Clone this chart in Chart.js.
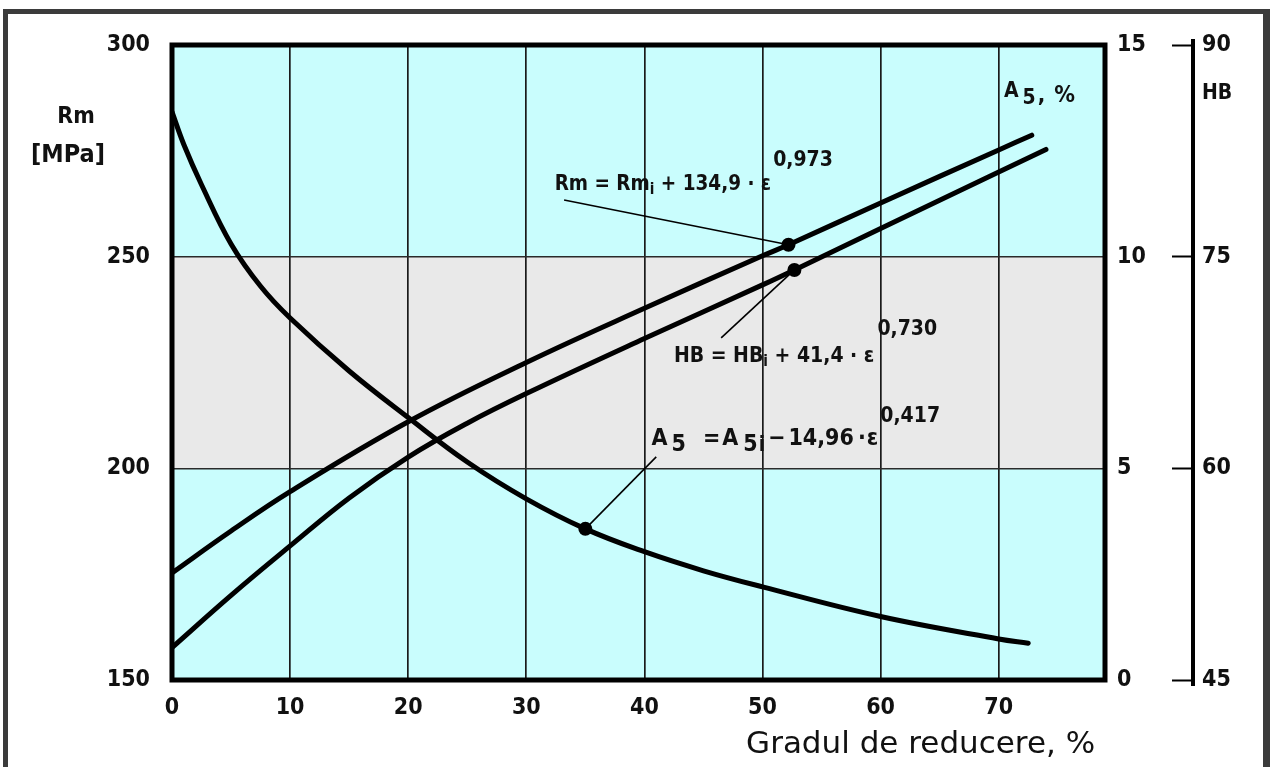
<!DOCTYPE html>
<html lang="ro">
<head>
<meta charset="UTF-8">
<title>Rm, HB, A5 - grad de reducere</title>
<script src="https://cdn.jsdelivr.net/npm/chart.js"></script>
<style>
    body { margin: 0; background: #fff; }
    #wrap { position: relative; width: 1270px; height: 767px; overflow: hidden; }
    #frame {
        position: absolute; left: 3px; top: 9px; right: 0; bottom: -20px;
        border: 5px solid #3b3b3b; border-right-width: 7px;
    }
    canvas { position: absolute; left: 0; top: 0; }
</style>
</head>
<body>
<div id="wrap">
    <div id="frame"></div>
    <canvas id="chart" width="1270" height="767"></canvas>
</div>
<script>
// grad de reducere (%) and values
const epsRm = [0, 5, 10, 20, 30, 40, 50, 52.2, 60, 70, 72.8];
const rmVals = [175.3, 185.2, 194.5, 211, 225, 237.8, 250.2, 252.8, 262.7, 275.2, 278.7];
const epsHb = [0, 5, 10, 15, 20, 25, 30, 40, 50, 52.7, 60, 70, 74];
const hbVals = [47.3, 51.0, 54.5, 57.9, 60.8, 63.2, 65.3, 69.2, 73.0, 74.06, 77.0, 81.0, 82.6];
const epsA5 = [0, 1, 2.5, 5, 7.5, 10, 15, 20, 25, 30, 35, 40, 45, 50, 60, 70, 72.5];
const a5Vals = [13.42, 12.65, 11.7, 10.3, 9.3, 8.55, 7.3, 6.2, 5.15, 4.28, 3.57, 3.03, 2.58, 2.2, 1.5, 0.97, 0.87];

// index of the marked point on each curve
const rmDot = 7, hbDot = 9, a5Dot = 10;

const xTicks = [0, 10, 20, 30, 40, 50, 60, 70];
const rmRange = [150, 300], a5Range = [0, 15], hbRange = [45, 90];
const bandRange = [200, 250];

const tickFont = { family: "'DejaVu Sans Condensed', 'DejaVu Sans', sans-serif", size: 23, weight: 'bold' };
const noteFamily = "'DejaVu Sans Condensed', 'DejaVu Sans', sans-serif";

function pts(xs, ys) { return xs.map((x, i) => ({ x: x, y: ys[i] })); }
function dotAt(idx) { return c => c.dataIndex === idx ? 4.5 : 0; }

// draws text made of pieces: [text, size, dy, gap before]
function rich(ctx, x, y, parts) {
    let cx = x;
    parts.forEach(p => {
        cx += p[3] || 0;
        ctx.font = 'bold ' + p[1] + 'px ' + noteFamily;
        ctx.fillText(p[0], cx, y + (p[2] || 0));
        cx += ctx.measureText(p[0]).width;
    });
}

const decor = {
    id: 'decor',
    beforeDraw(chart) {
        const { ctx, chartArea: a, scales } = chart;
        ctx.save();
        ctx.fillStyle = '#c9fdfd';
        ctx.fillRect(a.left, a.top, a.right - a.left, a.bottom - a.top);
        const yTop = scales.y.getPixelForValue(bandRange[1]);
        const yBot = scales.y.getPixelForValue(bandRange[0]);
        ctx.fillStyle = '#e9e9e9';
        ctx.fillRect(a.left, yTop, a.right - a.left, yBot - yTop);
        ctx.restore();
    },
    afterDatasetsDraw(chart) {
        const { ctx, chartArea: a, scales } = chart;
        const x = scales.x, y = scales.y, hb = scales.y2;
        ctx.save();
        // thick frame of the plot
        ctx.strokeStyle = '#000';
        ctx.lineWidth = 5;
        ctx.strokeRect(a.left, a.top, a.right - a.left, a.bottom - a.top);

        // HB axis line
        const hx = hb.left + 21;
        ctx.lineWidth = 4;
        ctx.beginPath();
        ctx.moveTo(hx, hb.getPixelForValue(hbRange[1]) - 6);
        ctx.lineTo(hx, hb.getPixelForValue(hbRange[0]) + 6);
        ctx.stroke();

        // leader lines to the marked points
        ctx.lineWidth = 1.6;
        const leaders = [
            [33.2, 263.4, epsRm[rmDot], y.getPixelForValue(rmVals[rmDot])],
            [46.5, 230.8, epsHb[hbDot], hb.getPixelForValue(hbVals[hbDot])],
            [41.0, 202.7, epsA5[a5Dot], scales.y1.getPixelForValue(a5Vals[a5Dot])]
        ];
        leaders.forEach(l => {
            ctx.beginPath();
            ctx.moveTo(x.getPixelForValue(l[0]), y.getPixelForValue(l[1]));
            ctx.lineTo(x.getPixelForValue(l[2]), l[3]);
            ctx.stroke();
        });

        // formulas
        ctx.fillStyle = '#111';
        ctx.textBaseline = 'alphabetic';
        ctx.textAlign = 'left';
        rich(ctx, x.getPixelForValue(32.4), y.getPixelForValue(265.7),
            [['Rm = Rm', 20.5], ['i', 15, 4], [' + 134,9 · ε', 20.5], ['0,973', 21, -24, 2]]);
        rich(ctx, x.getPixelForValue(42.5), y.getPixelForValue(225.1),
            [['HB = HB', 21], ['i', 15, 4], [' + 41,4 · ε', 21], ['0,730', 21, -27, 3]]);
        rich(ctx, x.getPixelForValue(40.6), y.getPixelForValue(205.5),
            [['A', 23], ['5', 23, 6, 4], ['=', 23, 0, 17], ['A', 23, 0, 2], ['5', 23, 6, 5], ['i', 21, 6, 1],
             ['−', 23, 0, 3], ['14,96', 23, 0, 3], ['·', 23, 0, 4], ['ε', 23, 0, 1], ['0,417', 21, -23, 2]]);

        // axis names
        ctx.textAlign = 'center';
        ctx.font = 'bold 23px ' + noteFamily;
        ctx.fillText('Rm', 76, 123);
        ctx.font = 'bold 25px ' + noteFamily;
        ctx.fillText('[MPa]', 68, 162);
        ctx.textAlign = 'left';
        ctx.font = 'bold 21px ' + noteFamily;
        ctx.fillText('HB', 1202, 99);
        rich(ctx, 1004, 97, [['A', 21], ['5', 21, 7, 4], [',', 22, 5, 2], ['%', 23, 5, 9]]);
        ctx.restore();
    }
};

const lineStyle = { borderColor: '#000', backgroundColor: '#000', borderWidth: 5, tension: 0.4 };

new Chart(document.getElementById('chart'), {
    type: 'line',
    data: {
        datasets: [
            Object.assign({ label: 'Rm', data: pts(epsRm, rmVals), yAxisID: 'y', pointRadius: dotAt(rmDot) }, lineStyle),
            Object.assign({ label: 'HB', data: pts(epsHb, hbVals), yAxisID: 'y2', pointRadius: dotAt(hbDot) }, lineStyle),
            Object.assign({ label: 'A5', data: pts(epsA5, a5Vals), yAxisID: 'y1', pointRadius: dotAt(a5Dot) }, lineStyle)
        ]
    },
    options: {
        responsive: false,
        animation: false,
        layout: { padding: { top: 45, left: 0, right: 0, bottom: 0 } },
        plugins: { legend: { display: false }, tooltip: { enabled: false } },
        elements: { line: { borderCapStyle: 'round' } },
        scales: {
            x: {
                type: 'linear', min: 0, max: 79,
                afterFit: s => { s.height = 87; },
                afterBuildTicks: s => { s.ticks = xTicks.map(v => ({ value: v })); },
                border: { display: false },
                grid: { color: '#1a1a1a', lineWidth: 1.7, drawTicks: false },
                ticks: { color: '#111', font: tickFont, padding: 14, maxRotation: 0 },
                title: {
                    display: true, align: 'end', text: 'Gradul de reducere, % ', color: '#111',
                    font: { family: "'DejaVu Sans', sans-serif", size: 31 }, padding: { top: 0, bottom: 3 }
                }
            },
            y: {
                position: 'left', min: rmRange[0], max: rmRange[1],
                afterFit: s => { s.width = 172; },
                border: { display: false },
                grid: {
                    drawTicks: false, lineWidth: 1.6,
                    color: c => (c.tick && (c.tick.value === bandRange[0] || c.tick.value === bandRange[1])) ? '#2a2a2a' : 'rgba(0,0,0,0)'
                },
                ticks: { stepSize: 50, color: '#111', font: tickFont, padding: 22 }
            },
            y1: {
                position: 'right', weight: 0, min: a5Range[0], max: a5Range[1],
                afterFit: s => { s.width = 67; },
                border: { display: false },
                grid: { drawOnChartArea: false, drawTicks: false },
                ticks: { stepSize: 5, color: '#111', font: tickFont, padding: 12 }
            },
            y2: {
                position: 'right', weight: 1, min: hbRange[0], max: hbRange[1],
                afterFit: s => { s.width = 98; },
                border: { display: false },
                grid: { drawOnChartArea: false, drawTicks: true, tickLength: 21, tickColor: '#000', tickWidth: 2 },
                ticks: { stepSize: 15, color: '#111', font: tickFont, padding: 9 }
            }
        }
    },
    plugins: [decor]
});
</script>
</body>
</html>
